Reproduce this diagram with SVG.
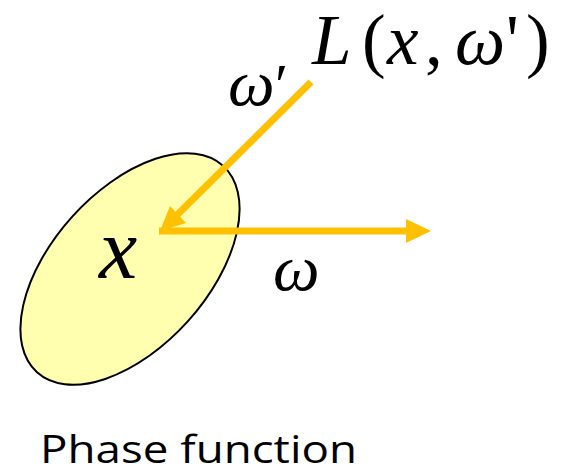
<svg xmlns="http://www.w3.org/2000/svg" width="572" height="475" viewBox="0 0 572 475">
<style>
.m{font-family:"Liberation Serif","Times New Roman",serif;font-style:italic;fill:#000}
.r{font-style:normal}
.arrow{stroke:#FFC000;stroke-width:7;fill:none}
.head{fill:#FFC000}
.cap{font-family:"Open Sans","Liberation Sans",sans-serif;font-size:39px;fill:#000}
</style>
<g id="medium">
<ellipse cx="130" cy="269" rx="139" ry="78" transform="rotate(-48 130 269)" fill="#FFFFAF" stroke="#000" stroke-width="2"/>
</g>
<g id="connectors">
<line class="arrow" x1="311" y1="82" x2="174" y2="218"/>
<polygon class="head" points="160,231 170,206 186,223"/>
<line class="arrow" x1="159" y1="231" x2="408" y2="231"/>
<polygon class="head" points="431,231 406,219 406,243"/>
</g>
<g id="labels">
<text class="m" y="64" font-size="71"><tspan x="312">L</tspan><tspan class="r" x="362">(</tspan><tspan x="387">x</tspan><tspan class="r" x="425">,</tspan><tspan x="455">ω</tspan><tspan class="r" x="506">'</tspan><tspan class="r" x="526">)</tspan></text>
<text class="m" y="105" font-size="66"><tspan x="228">ω</tspan><tspan class="r" x="275" font-size="60">′</tspan></text>
<text class="m" x="99" y="278" font-size="86">x</text>
<text class="m" x="273" y="290" font-size="66">ω</text>
<text class="cap" x="40" y="463" textLength="317" lengthAdjust="spacingAndGlyphs">Phase function</text>
</g>
</svg>
